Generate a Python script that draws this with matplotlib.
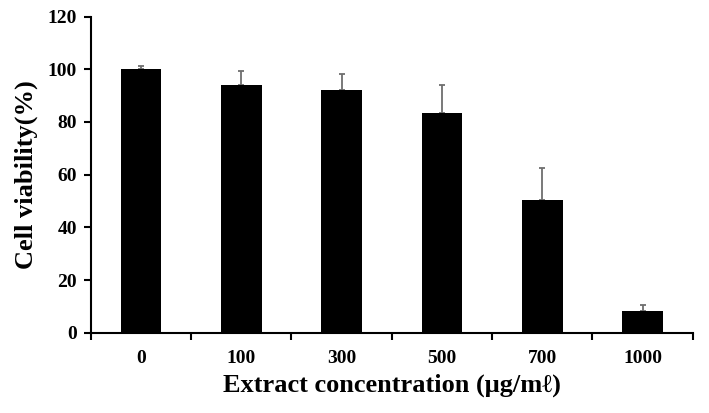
import numpy as np
import matplotlib.pyplot as plt
from matplotlib.ticker import FixedLocator, NullFormatter

concentrations = ['0', '100', '300', '500', '700', '1000']
viability = [100.2, 94.0, 92.0, 83.4, 50.5, 8.2]
errors = [0.9, 5.5, 6.3, 10.8, 12.0, 2.3]

plt.rcParams['font.family'] = ['Liberation Serif', 'DejaVu Serif']
plt.rcParams['font.weight'] = 'bold'

fig = plt.figure(figsize=(7.09, 4.13), dpi=100)
ax = fig.add_axes([0.128, 0.194, 0.849, 0.766])

x = np.arange(len(concentrations))
ax.bar(x, viability, width=0.405, color='black', zorder=2)
ax.errorbar(x, viability, yerr=[np.zeros(len(errors)), errors], fmt='none',
            ecolor='#6e6e6e', elinewidth=1.3, capsize=2.5, capthick=1.3, zorder=1)

ax.set_xlim(-0.5, len(concentrations) - 0.5)
ax.set_ylim(0, 120)
ax.set_yticks(range(0, 121, 20))
ax.set_xticks(x)
ax.set_xticklabels(concentrations, fontsize=14, fontweight='bold')
ax.tick_params(axis='x', which='major', length=0, pad=12)
ax.xaxis.set_minor_locator(FixedLocator(np.arange(-0.5, len(concentrations), 1.0)))
ax.xaxis.set_minor_formatter(NullFormatter())
ax.tick_params(axis='x', which='minor', direction='out', length=5, width=1.5)
ax.tick_params(axis='y', direction='out', length=5, width=1.5, labelsize=14, pad=5)
for lab in ax.get_yticklabels():
    lab.set_fontweight('bold')

for s in ['top', 'right']:
    ax.spines[s].set_visible(False)
for s in ['left', 'bottom']:
    ax.spines[s].set_linewidth(1.5)

ax.set_ylabel('Cell viability(%)', fontsize=19, fontweight='bold', labelpad=7)
ax.set_xlabel('Extract concentration (μg/mℓ)', fontsize=19, fontweight='bold', labelpad=5)

fig.savefig('out.png', dpi=100)
